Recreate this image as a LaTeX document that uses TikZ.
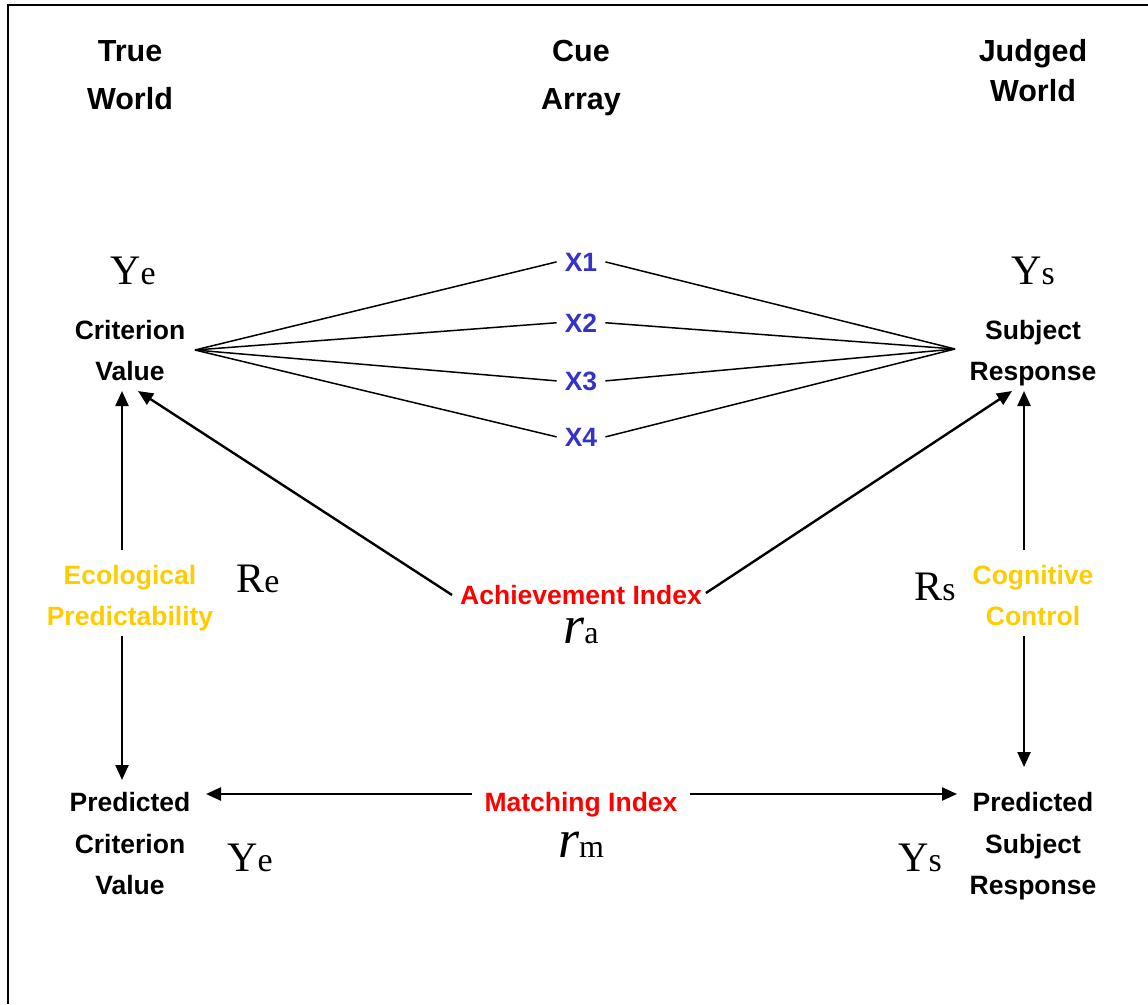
\documentclass[tikz,border=0pt]{standalone}
\usepackage{fontspec}
\usetikzlibrary{arrows.meta}
\newfontfamily\hv{Liberation Sans}
\newfontfamily\tm{Liberation Serif}
\definecolor{cueblue}{RGB}{51,51,204}
\definecolor{gold}{RGB}{255,204,0}
\begin{document}
\begin{tikzpicture}[x=1pt,y=-1pt,
  head/.style={font=\hv\bfseries\fontsize{30.5}{30.5}\selectfont,inner sep=0pt,anchor=base},
  lbl/.style={font=\hv\bfseries\fontsize{26.5}{26.5}\selectfont,inner sep=0pt,anchor=base},
  cue/.style={lbl,text=cueblue},
  idx/.style={lbl,text=red},
  pred/.style={lbl,text=gold},
  sym/.style={font=\tm\fontsize{42}{42}\selectfont,inner sep=0pt,anchor=base},
  corr/.style={sym,text height=22pt},
  fan/.style={line width=1.5pt},
  arr/.style={line width=2.4pt,-{Triangle[length=15pt,width=13pt]}}]
\useasboundingbox (0,0) rectangle (1148,1004);
% frame
\draw[line width=2.5pt] (8,1004) -- (8,5) -- (1148,5);

% column headings
\node[head] (tw1) at (130,61) {True};
\node[head] (tw2) at (130,109) {World};
\node[head] (ca1) at (581,61) {Cue};
\node[head] (ca2) at (581,109) {Array};
\node[head] (jw1) at (1033,61) {Judged};
\node[head] (jw2) at (1033,101) {World};

% Y symbols
\node[sym] (ye) at (133,284) {Y\fontsize{34}{34}\selectfont e};
\node[sym] (ys) at (1033,284) {Y\fontsize{34}{34}\selectfont s};

% criterion and subject response
\node[lbl] (cv1) at (130,339) {Criterion};
\node[lbl] (cv2) at (130,380) {Value};
\node[lbl] (sr1) at (1033,339) {Subject};
\node[lbl] (sr2) at (1033,380) {Response};

% cues
\node[cue] (x1) at (581,271) {X1};
\node[cue] (x2) at (581,332) {X2};
\node[cue] (x3) at (581,390) {X3};
\node[cue] (x4) at (581,446) {X4};

\coordinate (apexL) at (195,350);
\coordinate (apexR) at (955,349);
\foreach \c in {x1,x2,x3,x4}{
  \draw[fan] (apexL) -- ([xshift=-8pt]\c.west);
  \draw[fan] (apexR) -- ([xshift=8pt]\c.east);
}

% side labels
\node[pred] (ep1) at (130,584) {Ecological};
\node[pred] (ep2) at (130,625) {Predictability};
\node[pred] (cc1) at (1033,584) {Cognitive};
\node[pred] (cc2) at (1033,625) {Control};
\node[sym] (re) at (258,592) {R\fontsize{34}{34}\selectfont e};
\node[sym] (rs) at (935,600) {R\fontsize{34}{34}\selectfont s};

% achievement index
\node[idx] (ai) at (581,604) {Achievement Index};
\node[corr] (ra) at (581,643) {\fontsize{54}{54}\selectfont\itshape r\upshape\fontsize{32}{32}\selectfont a};

% predicted values
\node[lbl] (pc1) at (130,811) {Predicted};
\node[lbl] (pc2) at (130,853) {Criterion};
\node[lbl] (pc3) at (130,894) {Value};
\node[lbl] (ps1) at (1033,811) {Predicted};
\node[lbl] (ps2) at (1033,853) {Subject};
\node[lbl] (ps3) at (1033,894) {Response};
\node[sym] (ye2) at (250,871) {Y\fontsize{34}{34}\selectfont e};
\node[sym] (ys2) at (920,871) {Y\fontsize{34}{34}\selectfont s};

% matching index
\node[idx] (mi) at (581,811) {Matching Index};
\node[corr] (rm) at (581,857) {\fontsize{54}{54}\selectfont\itshape r\upshape\fontsize{32}{32}\selectfont m};

% arrow end points
\coordinate (cvL) at (122,391);
\coordinate (cvD) at (138,391);
\coordinate (srR) at (1024,391);
\coordinate (srD) at (1012,391);
\coordinate (pcT) at (122,780);
\coordinate (psT) at (1024,767);
\coordinate (pcR) at (206,794);
\coordinate (psL) at (957,794);

% arrows
\draw[arr] (122,550) -- (cvL);
\draw[arr] (122,636) -- (pcT);
\draw[arr] (1024,550) -- (srR);
\draw[arr] (1024,636) -- (psT);
\draw[arr] ([xshift=-8pt]ai.west |- 0,595) -- (cvD);
\draw[arr] ([xshift=4pt]ai.east |- 0,593) -- (srD);
\draw[arr] ([xshift=-12pt]mi.west |- pcR) -- (pcR);
\draw[arr] ([xshift=12pt]mi.east |- psL) -- (psL);
\end{tikzpicture}
\end{document}
